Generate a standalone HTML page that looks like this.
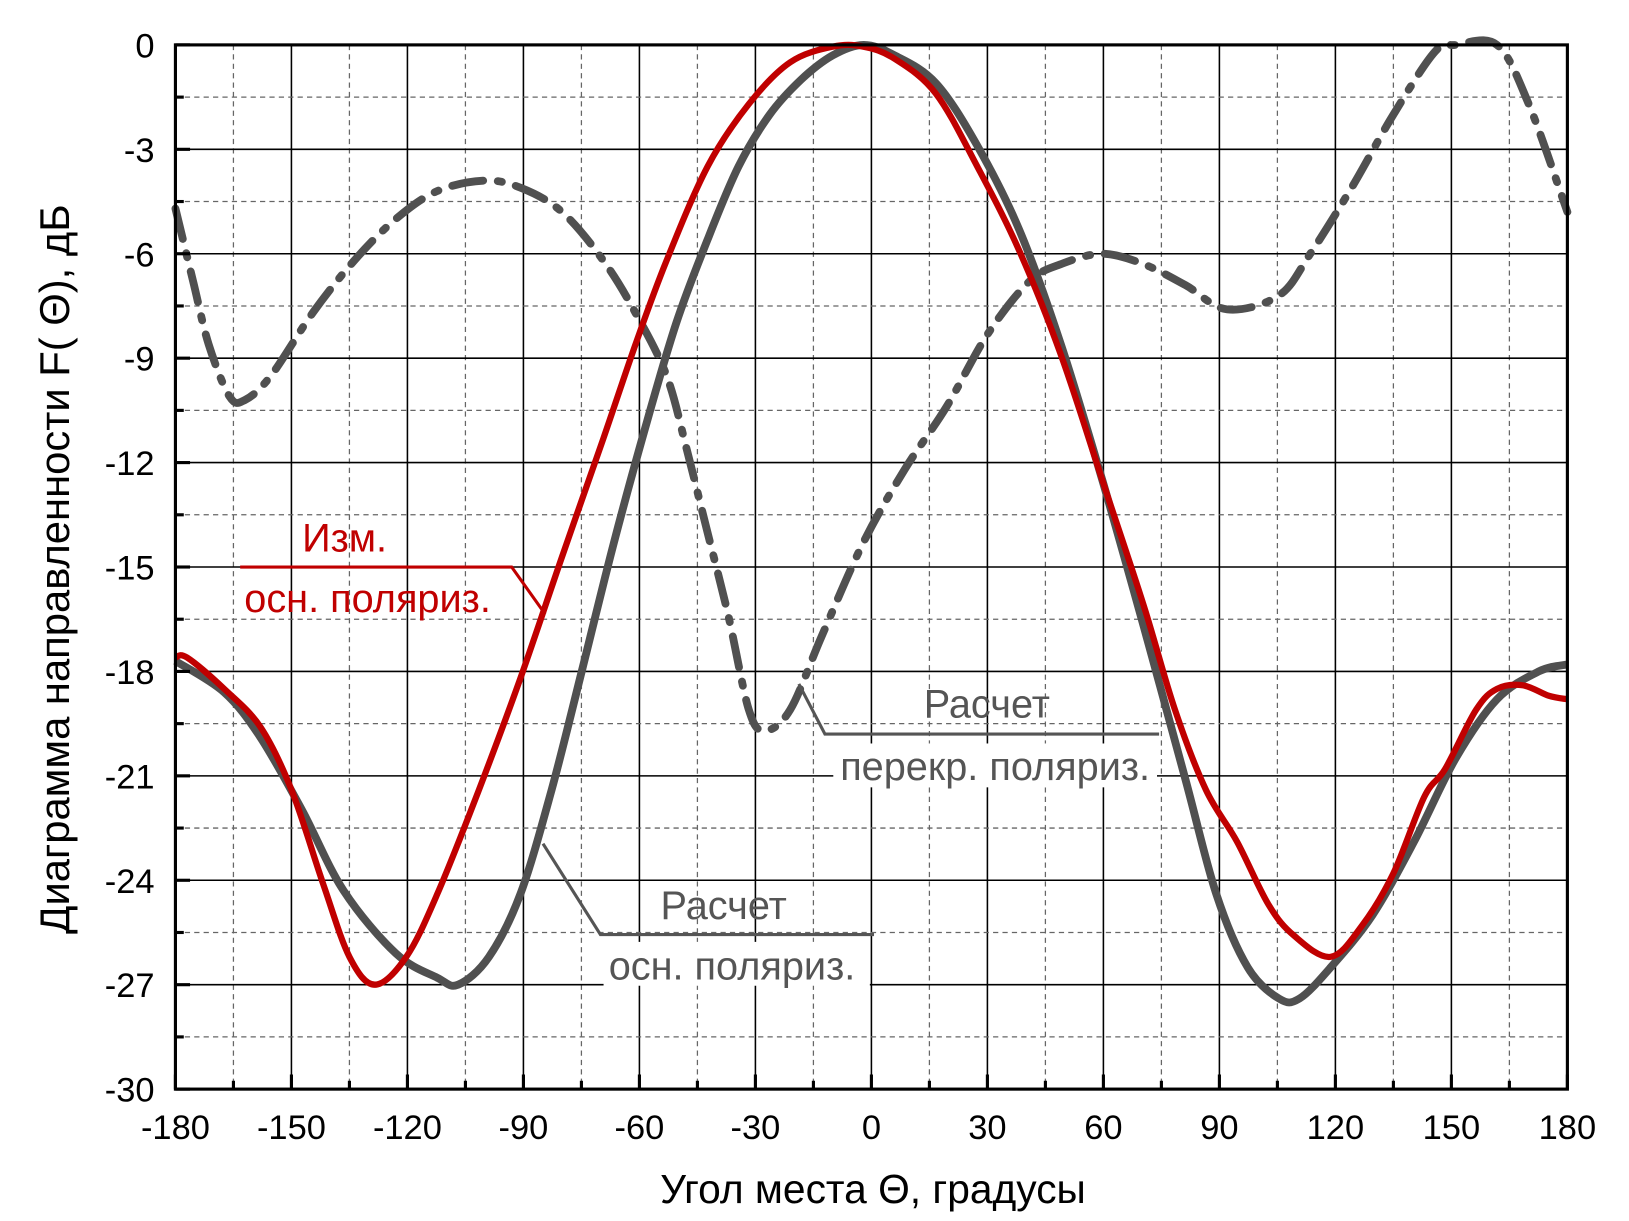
<!DOCTYPE html>
<html><head><meta charset="utf-8"><style>
html,body{margin:0;padding:0;background:#fff;}
svg{display:block;font-family:"Liberation Sans",sans-serif;}
</style></head><body>
<svg id="chart" width="1629" height="1221" viewBox="0 0 1560 1169.3" preserveAspectRatio="none" xmlns="http://www.w3.org/2000/svg">
<g id="grid"></g>
<g id="series"></g>
<rect x="168" y="43" width="1333" height="1000" fill="none" stroke="#000" stroke-width="3"/>
<g id="ticks"></g>
<text x="836" y="1152" font-size="39" text-anchor="middle">Угол места Θ, градусы</text>
<text transform="translate(66,545) rotate(-90)" font-size="40" text-anchor="middle">Диаграмма направленности F( Θ), дБ</text>
<g>
<polyline points="230,543 490,543 522,588" fill="none" stroke="#c00000" stroke-width="3"/>
<text x="330" y="528" font-size="38" fill="#c00000" text-anchor="middle">Изм.</text>
<text x="352" y="586" font-size="38" fill="#c00000" text-anchor="middle">осн. поляриз.</text>
</g>
<g>
<rect x="798" y="712" width="310" height="42" fill="#fff"/>
<polyline points="765,655 790,703 1110,703" fill="none" stroke="#555" stroke-width="3"/>
<text x="945" y="687" font-size="38" fill="#555" text-anchor="middle">Расчет</text>
<text x="953" y="747" font-size="38" fill="#555" text-anchor="middle">перекр. поляриз.</text>
</g>
<g>
<rect x="578" y="902" width="255" height="42" fill="#fff"/>
<polyline points="520,808 575,895 837,895" fill="none" stroke="#555" stroke-width="3"/>
<text x="693" y="880" font-size="38" fill="#555" text-anchor="middle">Расчет</text>
<text x="701" y="938" font-size="38" fill="#555" text-anchor="middle">осн. поляриз.</text>
</g>
</svg>
<script>
const measTheta=[-180,-177,-167.4,-158,-150,-141.8,-135,-128.4,-120.3,-112.3,-101.5,-90.8,-80,-69.3,-61,-53,-42.4,-31.7,-21,-10,-2.1,6,16.7,27.4,38.2,49,59.7,70.4,78.5,86.5,94.6,102.7,109.4,118.8,126.9,135,143,148.4,156.4,161.8,168.5,175.2,180];
const measVal=[-17.6,-17.6,-18.5,-19.6,-21.4,-24.1,-26.2,-27.0,-26.2,-24.4,-21.4,-18.2,-14.7,-11.3,-8.6,-6.2,-3.5,-1.7,-0.5,-0.05,-0.05,-0.4,-1.4,-3.5,-5.9,-8.9,-12.5,-16.1,-19.1,-21.4,-22.9,-24.7,-25.6,-26.2,-25.3,-23.8,-21.6,-20.8,-19.1,-18.5,-18.4,-18.7,-18.8];
const calcTheta=[-180,-167.4,-158,-147.2,-136.5,-123,-112.3,-106.9,-98.9,-90.8,-82.7,-74.7,-66.6,-58.5,-50.5,-42.4,-34.4,-26.3,-18.2,-10,-2,6,16.7,27.4,38.2,49,59.7,70.4,81.2,89.2,97.3,105.4,110.7,118.8,129.6,140.3,151.1,161.8,172.6,180];
const calcVal=[-17.7,-18.6,-19.9,-22.0,-24.3,-26.1,-26.8,-27.0,-26.2,-24.4,-21.4,-17.9,-14.3,-11.0,-8.0,-5.6,-3.5,-2.0,-1.0,-0.3,0,-0.3,-1.1,-2.9,-5.3,-8.6,-12.5,-16.7,-21.1,-24.4,-26.5,-27.4,-27.4,-26.5,-25.0,-22.9,-20.5,-18.8,-18.0,-17.8];
const crossTheta=[-180,-175.4,-171.4,-166,-162,-155.3,-144.5,-133.8,-123,-112.3,-100.2,-90.8,-80,-69.3,-61,-53,-47.8,-42.4,-37,-31.7,-27.6,-21,-12.9,-2.1,8.6,19.4,30.1,40.8,49,59.7,70.4,81.2,92,105.4,113.5,124.2,135,145.7,151.1,161.8,170,180];
const crossVal=[-4.7,-6.8,-8.6,-10.1,-10.2,-9.5,-7.7,-6.2,-5.0,-4.2,-3.9,-4.1,-4.8,-6.2,-7.7,-9.5,-11.6,-14.0,-16.4,-19.1,-19.7,-19.1,-17.0,-14.3,-12.2,-10.4,-8.3,-6.8,-6.3,-6.0,-6.3,-6.9,-7.6,-7.2,-6.0,-4.1,-2.0,-0.2,0,0,-1.7,-4.8];
const xTicks=[-180,-150,-120,-90,-60,-30,0,30,60,90,120,150,180];
const yTicks=[0,-3,-6,-9,-12,-15,-18,-21,-24,-27,-30];
const L=168,R=1501,T=43,B=1043;
const xs=v=>L+(v+180)/360*(R-L);
const ys=v=>T+(-v)/30*(B-T);
const NS='http://www.w3.org/2000/svg';
function mk(tag,parent,attrs){const e=document.createElementNS(NS,tag);for(const k in attrs)e.setAttribute(k,attrs[k]);parent.appendChild(e);return e;}
const grid=document.getElementById('grid'),ticks=document.getElementById('ticks'),series=document.getElementById('series');
for(let v=-180;v<=180;v+=15){
  const major=v%30===0;
  const ln=mk('line',grid,{x1:xs(v),x2:xs(v),y1:T,y2:B,stroke:major?'#000':'#666','stroke-width':major?1.5:1.2,'stroke-dasharray':major?'none':'5,4'});
  
  
  const tk=mk('line',ticks,{x1:xs(v),x2:xs(v),y1:B,y2:B-(major?14:8),stroke:'#000','stroke-width':3});
  
  
}
for(let v=0;v>=-30;v-=1.5){
  const major=Math.abs(v%3)<1e-9;
  const ln=mk('line',grid,{x1:L,x2:R,y1:ys(v),y2:ys(v),stroke:major?'#000':'#666','stroke-width':major?1.5:1.2,'stroke-dasharray':major?'none':'5,4'});
  
  
  const tk=mk('line',ticks,{x1:L,x2:L+(major?14:8),y1:ys(v),y2:ys(v),stroke:'#000','stroke-width':3});
  
  
}
xTicks.forEach(v=>{const t=mk('text',ticks,{x:xs(v),y:B+48,'font-size':33,'text-anchor':'middle'});t.textContent=v;
  
  });
yTicks.forEach(v=>{const t=mk('text',ticks,{x:L-20,y:ys(v)+12,'font-size':33,'text-anchor':'end'});t.textContent=v;
  
  });
function path(th,val){
  const p=th.map((t,i)=>[xs(t),ys(val[i])]);
  let d='M'+p[0][0].toFixed(1)+','+p[0][1].toFixed(1);
  for(let i=0;i<p.length-1;i++){
    const p0=p[Math.max(0,i-1)],p1=p[i],p2=p[i+1],p3=p[Math.min(p.length-1,i+2)];
    const c1x=p1[0]+(p2[0]-p0[0])/6,c1y=p1[1]+(p2[1]-p0[1])/6;
    const c2x=p2[0]-(p3[0]-p1[0])/6,c2y=p2[1]-(p3[1]-p1[1])/6;
    d+=' C'+c1x.toFixed(1)+','+c1y.toFixed(1)+' '+c2x.toFixed(1)+','+c2y.toFixed(1)+' '+p2[0].toFixed(1)+','+p2[1].toFixed(1);
  }
  return d;
}
const pc=mk('path',series,{d:path(calcTheta,calcVal),fill:'none',stroke:'#505050','stroke-width':7.5,'stroke-linejoin':'round'});


const px=mk('path',series,{d:path(crossTheta,crossVal),fill:'none',stroke:'#505050','stroke-width':7.5,'stroke-dasharray':'30,14,4,14','stroke-linecap':'round'});


const pm=mk('path',series,{d:path(measTheta,measVal),fill:'none',stroke:'#c00000','stroke-width':6,'stroke-linejoin':'round'});


</script>
</body></html>
